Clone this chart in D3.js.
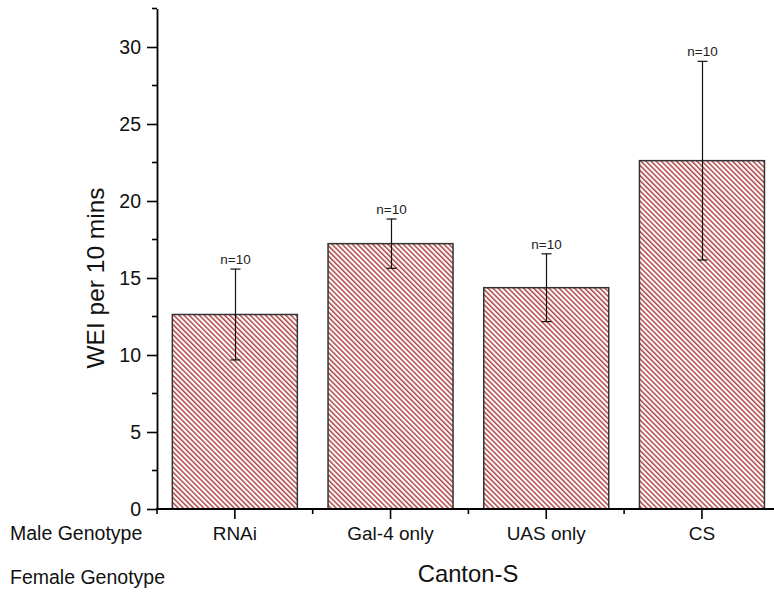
<!DOCTYPE html>
<html>
<head>
<meta charset="utf-8">
<script src="https://cdn.jsdelivr.net/npm/d3@7"></script>
<style>
  body { margin: 0; background: #fff; }
  svg { display: block; font-family: "Liberation Sans", Arial, sans-serif; }
</style>
</head>
<body>
<svg id="chart" width="774" height="598"></svg>
<script>
// Male genotypes (female genotype: Canton-S)
const categories = ["RNAi", "Gal-4 only", "UAS only", "CS"];
const meanWEI = [12.63, 17.23, 14.37, 22.62];
const sdWEI = [2.95, 1.6, 2.2, 6.45];
const sampleN = [10, 10, 10, 10];
const yTicks = [0, 5, 10, 15, 20, 25, 30];

const svg = d3.select("#chart");
const x0 = 157, yBase = 509;

const y = d3.scaleLinear().domain([0, 32.5]).range([yBase, 8.5]);
const xIdx = d3.scaleLinear().domain([-0.5, 3.5]).range([x0, x0 + 4 * 155.7]);
const barW = 125;

// Diagonal hatch fill
const defs = svg.append("defs");
const hs = 3.6;
const pat = defs.append("pattern")
  .attr("id", "hatch")
  .attr("patternUnits", "userSpaceOnUse")
  .attr("width", hs).attr("height", hs)
  .attr("patternTransform", "rotate(-45)");
pat.append("rect").attr("width", hs).attr("height", hs).attr("fill", "#fff");
pat.append("line")
  .attr("x1", 0.8).attr("y1", 0).attr("x2", 0.8).attr("y2", hs)
  .attr("stroke", "#950000").attr("stroke-width", 1.1);

// Bars
svg.append("g").selectAll("rect")
  .data(meanWEI)
  .join("rect")
  .attr("x", (d, i) => xIdx(i) - barW / 2)
  .attr("y", d => y(d))
  .attr("width", barW)
  .attr("height", d => y(0) - y(d))
  .attr("fill", "url(#hatch)")
  .attr("stroke", "#333")
  .attr("stroke-width", 1.5);

// Error bars
const eg = svg.append("g").attr("stroke", "#111").attr("stroke-width", 1.2);
meanWEI.forEach((m, i) => {
  const cx = Math.round(xIdx(i)) + 0.5;
  const top = y(m + sdWEI[i]), bot = y(m - sdWEI[i]);
  eg.append("line").attr("x1", cx).attr("x2", cx).attr("y1", top).attr("y2", bot);
  eg.append("line").attr("x1", cx - 5).attr("x2", cx + 5).attr("y1", top).attr("y2", top);
  eg.append("line").attr("x1", cx - 5).attr("x2", cx + 5).attr("y1", bot).attr("y2", bot);
  svg.append("text")
    .attr("x", cx).attr("y", top - 5)
    .attr("text-anchor", "middle")
    .attr("font-size", 13.5).attr("fill", "#222")
    .text("n=" + sampleN[i]);
});

// Y axis
const yAxis = d3.axisLeft(y).tickValues(yTicks).tickSize(10).tickPadding(6).tickSizeOuter(0);
const ya = svg.append("g").attr("transform", `translate(${x0},0)`).call(yAxis);
ya.select(".domain").attr("stroke", "#000").attr("stroke-width", 1.8);
ya.selectAll(".tick line").attr("stroke", "#000").attr("stroke-width", 1.6);
ya.selectAll(".tick text").attr("font-size", 19.5).attr("fill", "#111")
  .attr("font-family", "Liberation Sans, Arial, sans-serif");
// minor ticks
const yMinor = d3.range(2.5, 33, 5);
svg.append("g").selectAll("line").data(yMinor).join("line")
  .attr("x1", x0 - 5).attr("x2", x0)
  .attr("y1", d => y(d)).attr("y2", d => y(d))
  .attr("stroke", "#000").attr("stroke-width", 1.6);

// X axis
svg.append("line")
  .attr("x1", x0 - 1).attr("x2", 774)
  .attr("y1", yBase).attr("y2", yBase)
  .attr("stroke", "#000").attr("stroke-width", 1.8);
svg.append("g").selectAll("line").data(categories).join("line")
  .attr("x1", (d, i) => xIdx(i)).attr("x2", (d, i) => xIdx(i))
  .attr("y1", yBase).attr("y2", yBase + 10)
  .attr("stroke", "#000").attr("stroke-width", 1.6);
svg.append("g").selectAll("line").data(d3.range(0, 4)).join("line")
  .attr("x1", d => xIdx(d - 0.5)).attr("x2", d => xIdx(d - 0.5))
  .attr("y1", yBase).attr("y2", yBase + 5)
  .attr("stroke", "#000").attr("stroke-width", 1.6);
svg.append("g").selectAll("text").data(categories).join("text")
  .attr("x", (d, i) => xIdx(i)).attr("y", 540)
  .attr("text-anchor", "middle").attr("font-size", 19).attr("fill", "#111")
  .text(d => d);

// Row labels
svg.append("text").attr("x", 10).attr("y", 540).attr("font-size", 19.5).attr("fill", "#111")
  .text("Male Genotype");
svg.append("text").attr("x", 10).attr("y", 584).attr("font-size", 19.5).attr("fill", "#111")
  .text("Female Genotype");
svg.append("text").attr("x", 468).attr("y", 582).attr("text-anchor", "middle")
  .attr("font-size", 23.8).attr("fill", "#111").text("Canton-S");

// Y title
svg.append("text")
  .attr("transform", `translate(104,${y(15)}) rotate(-90)`)
  .attr("text-anchor", "middle")
  .attr("font-size", 24.5).attr("fill", "#111")
  .text("WEI per 10 mins");
</script>
</body>
</html>
